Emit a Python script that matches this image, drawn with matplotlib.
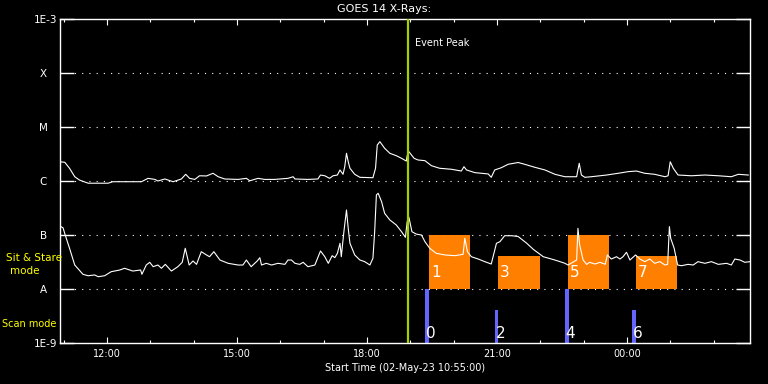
import matplotlib.pyplot as plt
from matplotlib.ticker import FixedLocator, NullLocator

# time in hours after start (02-May-23 10:55:00)
long_t = [0.0, 0.11, 0.22, 0.34, 0.45, 0.65, 1.11, 1.22, 1.88, 2.03,
          2.19, 2.26, 2.42, 2.61, 2.80, 2.90, 2.99, 3.11, 3.22, 3.38,
          3.53, 3.65, 3.80, 4.11, 4.30, 4.38, 4.57, 4.72, 4.95, 5.26,
          5.38, 5.42, 5.72, 5.95, 6.01, 6.11, 6.22, 6.30, 6.40, 6.46,
          6.53, 6.57, 6.61, 6.65, 6.69, 6.80, 6.92, 7.22, 7.28, 7.32,
          7.38, 7.49, 7.61, 7.76, 7.88, 7.99, 8.01, 8.05, 8.17, 8.26,
          8.42, 8.57, 8.76, 9.03, 9.26, 9.32, 9.38, 9.57, 9.88, 9.95,
          10.03, 10.18, 10.34, 10.57, 10.72, 10.96, 11.19, 11.42, 11.65, 11.92,
          11.98, 12.03, 12.11, 12.26, 12.42, 12.61, 12.88, 13.11, 13.30, 13.49,
          13.72, 13.96, 14.03, 14.08, 14.15, 14.26, 14.57, 14.88, 15.19, 15.49,
          15.65, 15.88]
long_flux = [2.27e-6, 2.22e-6, 1.72e-6, 1.20e-6, 1.04e-6, 9.1e-7, 9.1e-7, 9.7e-7, 9.7e-7, 1.12e-6,
             1.07e-6, 1.0e-6, 1.09e-6, 9.7e-7, 1.09e-6, 1.33e-6, 1.12e-6, 1.07e-6, 1.25e-6, 1.24e-6,
             1.39e-6, 1.20e-6, 1.09e-6, 1.07e-6, 1.12e-6, 1.01e-6, 1.12e-6, 1.07e-6, 1.07e-6, 1.12e-6,
             1.20e-6, 1.09e-6, 1.07e-6, 1.09e-6, 1.29e-6, 1.25e-6, 1.12e-6, 1.25e-6, 1.29e-6, 1.60e-6,
             1.33e-6, 1.84e-6, 3.26e-6, 2.27e-6, 1.72e-6, 1.33e-6, 1.17e-6, 1.15e-6, 1.72e-6, 4.64e-6,
             5.35e-6, 4.04e-6, 3.26e-6, 2.94e-6, 2.63e-6, 2.34e-6, 2.94e-6, 3.49e-6, 2.63e-6, 2.45e-6,
             2.38e-6, 1.92e-6, 1.72e-6, 1.65e-6, 1.53e-6, 1.84e-6, 1.60e-6, 1.43e-6, 1.35e-6, 1.17e-6,
             1.60e-6, 1.76e-6, 2.04e-6, 2.20e-6, 2.04e-6, 1.79e-6, 1.60e-6, 1.33e-6, 1.20e-6, 1.20e-6,
             2.13e-6, 1.29e-6, 1.17e-6, 1.20e-6, 1.24e-6, 1.29e-6, 1.39e-6, 1.49e-6, 1.53e-6, 1.39e-6,
             1.33e-6, 1.20e-6, 1.25e-6, 2.27e-6, 1.72e-6, 1.29e-6, 1.25e-6, 1.29e-6, 1.25e-6, 1.20e-6,
             1.33e-6, 1.29e-6]

short_t = [0.02, 0.07, 0.12, 0.22, 0.34, 0.53, 0.65, 0.80, 0.88, 1.03,
           1.18, 1.38, 1.49, 1.68, 1.86, 1.89, 1.99, 2.07, 2.15, 2.26,
           2.34, 2.43, 2.57, 2.72, 2.82, 2.89, 2.98, 3.07, 3.15, 3.26,
           3.38, 3.45, 3.55, 3.69, 3.88, 4.11, 4.22, 4.30, 4.41, 4.55,
           4.61, 4.65, 4.76, 4.88, 5.03, 5.19, 5.26, 5.34, 5.42, 5.53,
           5.61, 5.72, 5.88, 6.01, 6.11, 6.19, 6.28, 6.34, 6.40, 6.46,
           6.49, 6.55, 6.61, 6.65, 6.69, 6.80, 6.92, 7.03, 7.15, 7.22,
           7.26, 7.30, 7.34, 7.42, 7.49, 7.61, 7.76, 7.88, 7.97, 8.01,
           8.05, 8.12, 8.22, 8.34, 8.42, 8.53, 8.68, 8.88, 9.11, 9.30,
           9.34, 9.40, 9.49, 9.65, 9.80, 9.95, 10.02, 10.07, 10.15, 10.26,
           10.42, 10.57, 10.77, 10.92, 11.15, 11.34, 11.49, 11.65, 11.72, 11.92,
           11.95, 11.99, 12.07, 12.15, 12.22, 12.34, 12.46, 12.58, 12.63, 12.72,
           12.84, 12.92, 12.99, 13.07, 13.15, 13.28, 13.38, 13.49, 13.61, 13.72,
           13.84, 13.96, 14.02, 14.06, 14.09, 14.17, 14.25, 14.34, 14.49, 14.61,
           14.72, 14.88, 15.03, 15.19, 15.38, 15.49, 15.57, 15.69, 15.80, 15.92]
short_flux = [1.43e-7, 1.36e-7, 1.0e-7, 5.68e-8, 2.78e-8, 1.87e-8, 1.76e-8, 1.82e-8, 1.69e-8, 1.76e-8,
              2.09e-8, 2.25e-8, 2.42e-8, 2.15e-8, 2.25e-8, 1.87e-8, 2.78e-8, 3.12e-8, 2.59e-8, 2.78e-8,
              2.42e-8, 2.86e-8, 2.15e-8, 2.59e-8, 3.12e-8, 5.68e-8, 2.78e-8, 3.30e-8, 2.86e-8, 4.91e-8,
              4.27e-8, 3.96e-8, 4.91e-8, 3.44e-8, 2.99e-8, 2.78e-8, 2.78e-8, 3.44e-8, 2.59e-8, 3.30e-8,
              3.80e-8, 2.78e-8, 2.99e-8, 2.78e-8, 2.99e-8, 2.86e-8, 3.44e-8, 3.44e-8, 2.99e-8, 2.86e-8,
              3.12e-8, 2.59e-8, 2.78e-8, 5.06e-8, 3.96e-8, 2.99e-8, 4.14e-8, 3.80e-8, 4.58e-8, 7.02e-8,
              3.96e-8, 1.15e-7, 2.90e-7, 1.33e-7, 7.02e-8, 4.27e-8, 3.44e-8, 3.21e-8, 2.78e-8, 3.71e-8,
              1.15e-7, 5.51e-7, 5.92e-7, 4.14e-7, 2.52e-7, 1.90e-7, 1.53e-7, 1.15e-7, 9.06e-8, 1.76e-7,
              2.13e-7, 1.15e-7, 1.04e-7, 1.0e-7, 7.52e-8, 5.68e-8, 4.58e-8, 4.27e-8, 4.14e-8, 4.39e-8,
              8.69e-8, 4.91e-8, 3.96e-8, 3.59e-8, 3.21e-8, 2.90e-8, 4.91e-8, 7.02e-8, 7.52e-8, 9.7e-8,
              9.7e-8, 9.38e-8, 7.02e-8, 5.43e-8, 3.96e-8, 3.59e-8, 3.30e-8, 2.99e-8, 2.78e-8, 3.44e-8,
              1.33e-7, 6.53e-8, 3.44e-8, 2.86e-8, 3.12e-8, 2.90e-8, 3.12e-8, 2.86e-8, 4.27e-8, 3.59e-8,
              3.96e-8, 3.59e-8, 3.96e-8, 4.79e-8, 3.44e-8, 4.27e-8, 3.59e-8, 3.21e-8, 3.59e-8, 2.99e-8,
              3.21e-8, 2.78e-8, 2.86e-8, 1.43e-7, 8.69e-8, 5.68e-8, 2.78e-8, 2.70e-8, 2.86e-8, 2.78e-8,
              3.21e-8, 2.99e-8, 3.21e-8, 2.86e-8, 2.99e-8, 2.78e-8, 3.59e-8, 3.44e-8, 3.12e-8, 3.21e-8]

event_peak = 8.03

# sit & stare observations
sit_start = [8.52, 10.11, 11.72, 13.29]
sit_end = [9.46, 11.08, 12.67, 14.24]
sit_top = [1e-7, 4.1e-8, 1e-7, 4.1e-8]
sit_labels = ["1", "3", "5", "7"]

# scan observations
scan_start = [8.42, 10.04, 11.65, 13.20]
scan_end = [8.52, 10.11, 11.75, 13.29]
scan_top = [1e-8, 4.1e-9, 1e-8, 4.1e-9]
scan_labels = ["0", "2", "4", "6"]

major_hours = [1.083, 4.083, 7.083, 10.083, 13.083]
major_labels = ["12:00", "15:00", "18:00", "21:00", "00:00"]
minor_hours = [h + 0.083 for h in range(16)]

y_ticks = [1e-9, 1e-8, 1e-7, 1e-6, 1e-5, 1e-4, 1e-3]
y_labels = ["1E-9", "A   ", "B   ", "C   ", "M   ", "X   ", "1E-3"]

fig = plt.figure(figsize=(7.68, 3.84), dpi=100, facecolor="black")
ax = fig.add_axes([60 / 768, 41 / 384, 690 / 768, 324 / 384])
ax.set_facecolor("black")
ax.set_yscale("log")
ax.set_xlim(0, 15.92)
ax.set_ylim(1e-9, 1e-3)

# dotted level lines
for lvl in y_ticks[1:-1]:
    ax.axhline(lvl, color="white", lw=0.8, ls=(0, (1, 5.5)), zorder=1)

ax.bar(sit_start, [t - 1e-8 for t in sit_top], bottom=1e-8,
       width=[e - s for s, e in zip(sit_start, sit_end)], align="edge",
       color="#ff8000", zorder=2)
ax.bar(scan_start, [t - 1e-9 for t in scan_top], bottom=1e-9,
       width=[e - s for s, e in zip(scan_start, scan_end)], align="edge",
       color="#6464ff", zorder=2)

for s, lbl in zip(sit_start, sit_labels):
    ax.annotate(lbl, (s, 2.0e-8), xytext=(1.5, 0), textcoords="offset points",
                color="white", fontsize=11, va="center", ha="left", zorder=5)
for s, lbl in zip(scan_start, scan_labels):
    ax.annotate(lbl, (s, 1.5e-9), xytext=(0.5, 0), textcoords="offset points",
                color="white", fontsize=11, va="center", ha="left", zorder=5)

ax.plot(long_t, long_flux, color="white", lw=0.8, zorder=3)
ax.plot(short_t, short_flux, color="white", lw=0.8, zorder=3)

ax.axvline(event_peak, color="#a4d000", lw=1.6, zorder=4)
ax.annotate("Event Peak", (event_peak, 3.6e-4), xytext=(5, 0), textcoords="offset points",
            color="white", fontsize=7, va="center", ha="left")

for sp in ax.spines.values():
    sp.set_color("white")
    sp.set_linewidth(1)

ax.xaxis.set_major_locator(FixedLocator(major_hours))
ax.xaxis.set_minor_locator(FixedLocator(minor_hours))
ax.set_xticklabels(major_labels)
ax.tick_params(axis="x", which="major", direction="in", length=4.3, width=0.8,
               colors="white", top=True, labelsize=7, pad=4)
ax.tick_params(axis="x", which="minor", direction="in", length=2.2, width=0.8,
               colors="white", top=True)

ax.yaxis.set_major_locator(FixedLocator(y_ticks))
ax.yaxis.set_minor_locator(NullLocator())
ax.set_yticklabels(y_labels)
ax.tick_params(axis="y", which="major", direction="in", length=10, width=1,
               colors="white", right=True, labelsize=7.5, pad=2)

ax.set_xlabel("Start Time (02-May-23 10:55:00)", color="white", fontsize=7, labelpad=3)

fig.text(0.5, 1 - 9 / 384, "GOES 14 X-Rays:", color="white", fontsize=8,
         ha="center", va="center")
fig.text(34 / 768, 1 - 258 / 384, "Sit & Stare", color="yellow", fontsize=7.5,
         ha="center", va="center")
fig.text(25 / 768, 1 - 271 / 384, "mode", color="yellow", fontsize=7.5,
         ha="center", va="center")
fig.text(2 / 768, 1 - 324 / 384, "Scan mode", color="yellow", fontsize=7,
         ha="left", va="center")

fig.savefig("out.png", dpi=100, facecolor="black")
